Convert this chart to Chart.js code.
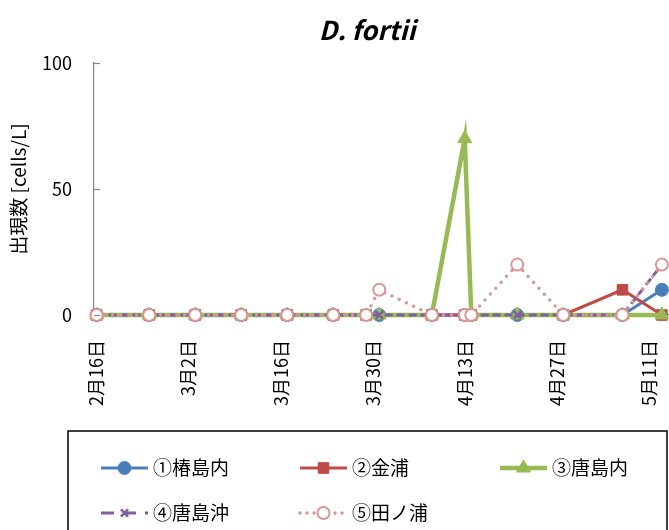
<!DOCTYPE html>
<html lang="ja">
<head>
    <meta charset="UTF-8">
    <title>D. fortii</title>
    <script src="https://cdn.jsdelivr.net/npm/chart.js"></script>
    <style>
        html, body { margin: 0; padding: 0; background: #fff; }
        #wrap { width: 669px; height: 530px; overflow: hidden; }
    </style>
</head>
<body>
    <div id="wrap">
        <canvas id="fortiiChart" width="734" height="570" style="width:734px;height:570px"></canvas>
    </div>
    <script>
        // sampling dates (month/day)
        const dates = ['2/16', '2/24', '3/3', '3/10', '3/17', '3/24', '3/29', '3/31',
                       '4/8', '4/13', '4/14', '4/21', '4/28', '5/7', '5/13'];

        // cells/L per site, null = not sampled that day
        const site1 = [0, 0, 0, 0, 0, 0, null, 0, 0, 0, 0, 0, 0, 0, 10];
        const site2 = [0, 0, 0, 0, 0, 0, 0, null, 0, 0, 0, null, 0, 10, 0];
        const site3 = [0, 0, 0, 0, 0, 0, null, 0, 0, 70, 0, 0, 0, 0, 0];
        const site4 = [0, 0, 0, 0, 0, 0, null, 0, 0, 0, 0, 0, 0, 0, 20];
        const site5 = [0, 0, 0, 0, 0, 0, 0, 10, 0, 0, 0, 20, 0, 0, 20];

        const siteNames = ['①椿島内', '②金浦', '③唐島内', '④唐島沖', '⑤田ノ浦'];
        const yTicks = [0, 50, 100];

        const monthStart = [0, 31, 59, 90, 120, 151];
        const DAY0 = 31 + 16; // 2/16

        function dayOf(s) {
            const [m, d] = s.split('/').map(Number);
            return monthStart[m - 1] + d - DAY0;
        }
        function labelOf(v) {
            const doy = v + DAY0;
            let m = 0;
            while (m < 5 && monthStart[m + 1] < doy) m++;
            return (m + 1) + '月' + (doy - monthStart[m]) + '日';
        }
        function points(vals) {
            const out = [];
            vals.forEach((v, i) => { if (v !== null) out.push({ x: dayOf(dates[i]), y: v }); });
            return out;
        }

        Chart.defaults.font.family = '"Noto Sans CJK JP", "Noto Sans", sans-serif';
        Chart.defaults.color = '#000';

        const styles = [
            { color: '#4a7ebb', width: 3, style: 'circle', radius: 6.5, fill: '#4a7ebb', dash: [] },
            { color: '#be4b48', width: 3, style: 'rect', radius: 7.5, fill: '#be4b48', dash: [] },
            { color: '#98b954', width: 4.5, style: 'triangle', radius: 8, fill: '#98b954', dash: [] },
            { color: '#7d60a0', width: 3, style: 'crossRot', radius: 5, fill: '#7d60a0', dash: [8, 4] },
            { color: '#d99694', width: 3.5, style: 'circle', radius: 6, fill: '#ffffff', dash: [0, 8] }
        ];
        const series = [site1, site2, site3, site4, site5];

        const datasets = series.map((vals, i) => {
            const s = styles[i];
            return {
                label: siteNames[i],
                data: points(vals),
                borderColor: s.color,
                borderWidth: s.width,
                borderDash: s.dash,
                borderCapStyle: i === 4 ? 'round' : 'butt',
                pointStyle: s.style,
                pointRadius: s.radius,
                pointBackgroundColor: s.fill,
                pointBorderColor: s.color,
                pointBorderWidth: i === 4 ? 2 : (i === 3 ? 2.5 : 1),
                tension: 0,
                clip: false,
                order: 5 - i
            };
        });

        // legend in a box + inside ticks on the y axis
        const boxLegend = {
            id: 'boxLegend',
            afterDraw(chart) {
                const ctx = chart.ctx;
                const y = chart.scales.y;
                ctx.save();
                ctx.strokeStyle = '#868686';
                ctx.lineWidth = 1.2;
                yTicks.forEach(v => {
                    const py = Math.round(y.getPixelForValue(v)) + 0.5;
                    ctx.beginPath();
                    ctx.moveTo(chart.chartArea.left, py);
                    ctx.lineTo(chart.chartArea.left + 6, py);
                    ctx.stroke();
                });

                ctx.strokeStyle = '#000';
                ctx.lineWidth = 1.5;
                ctx.strokeRect(68, 431, 599, 200);

                const cols = [101, 300, 500];
                const rows = [468, 513];
                const place = [[0, 0], [1, 0], [2, 0], [0, 1], [1, 1]];
                datasets.forEach((ds, i) => {
                    const s = styles[i];
                    const x0 = cols[place[i][0]];
                    const py = rows[place[i][1]];
                    ctx.save();
                    ctx.strokeStyle = s.color;
                    ctx.lineWidth = s.width;
                    ctx.lineCap = i === 4 ? 'round' : 'butt';
                    ctx.setLineDash(i === 3 ? [13, 9] : (i === 4 ? [0, 7] : []));
                    ctx.beginPath();
                    ctx.moveTo(x0, py);
                    ctx.lineTo(x0 + 47, py);
                    ctx.stroke();
                    ctx.setLineDash([]);
                    ctx.fillStyle = s.fill;
                    ctx.strokeStyle = s.color;
                    ctx.lineWidth = ds.pointBorderWidth;
                    Chart.helpers.drawPoint(ctx, {
                        pointStyle: s.style, radius: s.radius, rotation: 0, borderWidth: ds.pointBorderWidth
                    }, x0 + 23.5, py);
                    ctx.restore();

                    ctx.fillStyle = '#000';
                    ctx.font = '19px "Noto Sans CJK JP"';
                    ctx.textBaseline = 'middle';
                    ctx.textAlign = 'left';
                    ctx.fillText(siteNames[i], x0 + 52, py);
                });
                ctx.restore();
            }
        };

        const config = {
            type: 'line',
            data: { datasets: datasets },
            options: {
                responsive: false,
                animation: false,
                layout: { padding: { left: 0, right: 0, top: 0, bottom: 139 } },
                plugins: {
                    legend: { display: false },
                    tooltip: { enabled: false },
                    title: {
                        display: true,
                        text: 'D. fortii',
                        font: { size: 26, weight: 'bold', style: 'italic' },
                        color: '#000',
                        padding: { top: 14.4, bottom: 17.4 }
                    }
                },
                scales: {
                    x: {
                        type: 'linear',
                        min: -0.4,
                        max: 95.6,
                        grid: { display: false, drawTicks: false },
                        border: { display: true, color: '#868686', width: 1.2 },
                        ticks: {
                            stepSize: 14,
                            includeBounds: false,
                            autoSkip: false,
                            minRotation: 90,
                            maxRotation: 90,
                            padding: 25,
                            font: { size: 18 },
                            callback: v => labelOf(v)
                        },
                        afterFit: scale => { scale.height = 116; }
                    },
                    y: {
                        min: 0,
                        max: 100,
                        grid: { display: false, drawTicks: false },
                        border: { display: true, color: '#868686', width: 1.2 },
                        ticks: { stepSize: 50, padding: 22, font: { size: 18 } },
                        title: {
                            display: true,
                            text: '出現数 [cells/L]',
                            font: { size: 19 },
                            padding: { top: 7, bottom: 0 }
                        },
                        afterFit: scale => { scale.width = 94; }
                    }
                }
            },
            plugins: [boxLegend]
        };

        new Chart(document.getElementById('fortiiChart').getContext('2d'), config);
    </script>
</body>
</html>
